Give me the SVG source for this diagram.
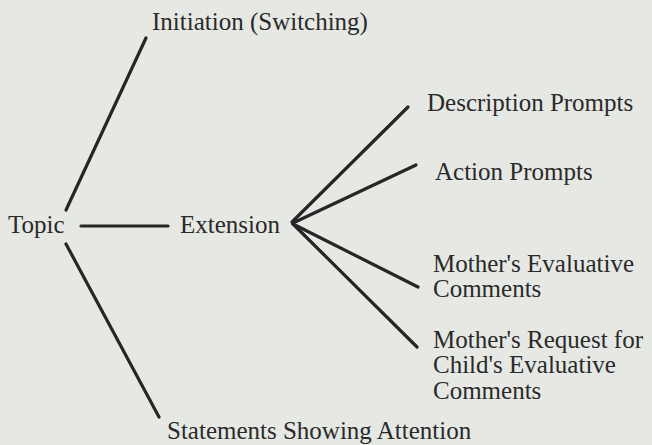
<svg xmlns="http://www.w3.org/2000/svg" width="652" height="445" viewBox="0 0 652 445">
<style>
text{font-family:"Liberation Serif","Times New Roman",serif;font-size:25px;fill:#2a2a2a}
.c line{stroke:#262626;stroke-width:3.2;stroke-linecap:round}
</style>
<rect width="652" height="445" fill="#e6e8e4"/>
<g class="c" id="connectors">
<line x1="146" y1="38" x2="66" y2="210"/>
<line x1="81" y1="226" x2="168" y2="226"/>
<line x1="66" y1="244" x2="159" y2="417"/>
<line x1="292" y1="222" x2="408" y2="107"/>
<line x1="293" y1="223" x2="416" y2="165"/>
<line x1="293" y1="224" x2="418" y2="287"/>
<line x1="293" y1="224" x2="417" y2="347"/>
</g>
<g id="topic"><text x="8" y="233">Topic</text></g>
<g id="initiation"><text x="152" y="30">Initiation (Switching)</text></g>
<g id="extension"><text x="180" y="233">Extension</text></g>
<g id="statements"><text x="167" y="439">Statements Showing Attention</text></g>
<g id="description"><text x="427" y="111">Description Prompts</text></g>
<g id="action"><text x="435" y="180">Action Prompts</text></g>
<g id="mother-eval"><text x="433" y="272">Mother's Evaluative</text><text x="433" y="297">Comments</text></g>
<g id="mother-request"><text x="433" y="348">Mother's Request for</text><text x="433" y="373">Child's Evaluative</text><text x="433" y="399">Comments</text></g>
</svg>
